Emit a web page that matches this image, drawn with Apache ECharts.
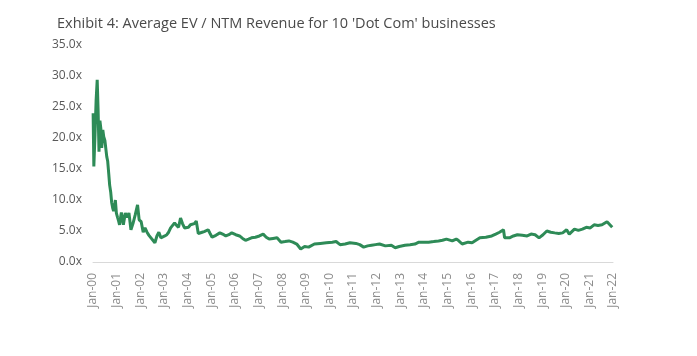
<!DOCTYPE html>
<html>
<head>
<meta charset="utf-8">
<script src="https://cdn.jsdelivr.net/npm/echarts@6/dist/echarts.min.js"></script>
<style>
html,body{margin:0;padding:0;background:#fff;}
#chart{width:697px;height:356px;}
</style>
</head>
<body>
<div id="chart"></div>
<script>
var titleText = "Exhibit 4: Average EV / NTM Revenue for 10 'Dot Com' businesses";

var dates = [
'2000-01-03','2000-01-14','2000-02-01','2000-02-18','2000-03-06','2000-03-20','2000-04-03','2000-04-17',
'2000-05-01','2000-05-15','2000-06-01','2000-06-15','2000-07-03','2000-07-17','2000-08-01','2000-08-15',
'2000-09-01','2000-09-15','2000-10-02','2000-10-16','2000-11-01','2000-11-15','2000-12-01','2000-12-12','2000-12-28',
'2001-01-15','2001-02-01','2001-02-15','2001-03-15','2001-04-15','2001-05-15','2001-06-15','2001-07-10',
'2001-08-10','2001-09-10','2001-10-15','2001-11-20','2001-12-15',
'2002-01-15','2002-02-15','2002-03-15','2002-04-15','2002-05-15','2002-06-15','2002-07-15','2002-08-15',
'2002-09-15','2002-10-15','2002-11-15','2002-12-15',
'2003-01-15','2003-02-15','2003-03-15','2003-04-15','2003-05-15','2003-06-15','2003-07-15','2003-08-15',
'2003-09-15','2003-10-15','2003-11-15','2003-12-15',
'2004-01-15','2004-02-15','2004-03-15','2004-04-15','2004-05-15','2004-06-15','2004-07-15','2004-08-15',
'2004-09-15','2004-10-15','2004-11-15','2004-12-15',
'2005-01-15','2005-03-15','2005-05-15','2005-07-15','2005-08-15','2005-10-01','2005-11-15',
'2006-01-15','2006-03-15','2006-05-01','2006-06-15','2006-08-01','2006-09-15','2006-11-15',
'2007-01-15','2007-03-15','2007-05-01','2007-06-15','2007-08-15','2007-10-15','2007-12-15',
'2008-02-15','2008-04-15','2008-06-15','2008-08-15','2008-10-15','2008-12-15',
'2009-02-15','2009-05-15','2009-08-15','2009-11-15',
'2010-02-15','2010-04-15','2010-06-15','2010-09-01','2010-11-15',
'2011-02-15','2011-04-15','2011-06-15','2011-08-15','2011-10-15','2011-12-15',
'2012-02-15','2012-05-15','2012-08-15','2012-10-15','2012-12-15',
'2013-03-15','2013-06-01','2013-08-15','2013-10-15','2013-12-15',
'2014-03-15','2014-06-01','2014-08-15','2014-10-15','2014-12-15',
'2015-03-15','2015-05-15','2015-06-15','2015-08-15','2015-11-15',
'2016-01-15','2016-03-15','2016-05-15','2016-08-15','2016-11-15',
'2017-01-15','2017-03-15','2017-05-15','2017-06-01','2017-08-15','2017-10-15','2017-12-15',
'2018-03-01','2018-05-15','2018-07-15','2018-09-15','2018-11-15',
'2019-01-15','2019-03-15','2019-05-15','2019-07-15','2019-09-15','2019-11-15',
'2020-01-15','2020-02-25','2020-05-15','2020-07-15','2020-09-15','2020-11-15',
'2021-01-15','2021-03-15','2021-05-15','2021-07-15','2021-10-01','2021-12-20'
];

var evRevenue = [
24.0,15.4,20.5,26.0,29.4,24.5,17.8,22.8,
21.6,18.4,21.3,20.2,19.6,19.9,17.0,16.3,
14.2,12.4,11.2,9.6,8.7,8.2,9.0,10.0,7.9,
7.2,6.6,6.0,8.0,6.0,7.9,7.2,7.9,
5.2,6.2,7.6,9.2,6.8,
6.5,4.8,5.5,4.8,4.3,3.9,3.6,3.1,
4.2,4.8,3.9,4.0,
4.2,4.4,4.8,5.5,5.8,6.3,5.9,5.6,
7.1,6.2,5.5,5.8,
5.6,6.0,5.7,6.2,6.6,4.6,4.5,4.8,
4.9,5.0,5.2,4.6,
4.0,4.3,4.7,4.4,4.2,4.4,4.7,
4.4,4.2,3.8,3.5,3.7,3.9,4.0,
4.2,4.5,4.0,3.7,3.8,3.9,3.2,
3.3,3.4,3.2,2.9,2.1,2.5,
2.4,2.9,3.0,3.1,
3.2,3.3,2.8,2.9,3.1,
3.0,2.8,2.4,2.6,2.7,2.8,
2.9,2.6,2.7,2.3,2.5,
2.7,2.8,2.9,3.2,3.2,
3.2,3.3,3.4,3.5,3.7,
3.4,3.7,3.5,2.9,3.2,
3.1,3.5,3.9,4.0,4.2,
4.5,4.8,5.2,3.9,3.9,4.2,4.4,
4.3,4.2,4.5,4.4,3.9,
4.4,5.0,4.8,4.7,4.6,4.7,
5.2,4.5,5.3,5.1,5.3,5.6,
5.5,6.0,5.9,6.0,6.5,5.6
];

var yTicks = [0, 5, 10, 15, 20, 25, 30, 35];
var xYears = [2000, 2022];

function toYear(s) {
  var p = s.split('-');
  var y = +p[0], m = +p[1] - 1, d = +p[2];
  var start = Date.UTC(y, 0, 1), end = Date.UTC(y + 1, 0, 1);
  return y + (Date.UTC(y, m, d) - start) / (end - start);
}

var seriesData = dates.map(function (d, i) { return [toYear(d), evRevenue[i]]; });

var chart = echarts.init(document.getElementById('chart'), null, { renderer: 'canvas' });
chart.setOption({
  animation: false,
  backgroundColor: '#ffffff',
  title: {
    text: titleText,
    left: 52,
    top: 11,
    textStyle: { fontFamily: 'Open Sans', fontSize: 14.5, fontWeight: 'normal', color: '#4a4a4a' }
  },
  grid: { left: 93, right: 84, top: 45, bottom: 94, containLabel: false },
  xAxis: {
    type: 'value',
    min: xYears[0],
    max: xYears[1],
    interval: 1,
    splitLine: { show: false },
    axisTick: { show: false },
    axisLine: { show: true, lineStyle: { color: '#d9d9d9', width: 1 } },
    axisLabel: {
      rotate: 90,
      margin: 11,
      fontFamily: 'Open Sans',
      fontSize: 12,
      color: '#8c8c8c',
      formatter: function (v) {
        var yy = Math.round(v) % 100;
        return 'Jan-' + (yy < 10 ? '0' + yy : '' + yy);
      }
    }
  },
  yAxis: {
    type: 'value',
    min: yTicks[0],
    max: yTicks[yTicks.length - 1],
    interval: yTicks[1] - yTicks[0],
    splitLine: { show: false },
    axisLine: { show: false },
    axisTick: { show: false },
    axisLabel: {
      margin: 11,
      fontFamily: 'Open Sans',
      fontSize: 12,
      color: '#595959',
      formatter: function (v) { return v.toFixed(1) + 'x'; }
    }
  },
  series: [{
    type: 'line',
    data: seriesData,
    showSymbol: false,
    symbol: 'none',
    lineStyle: { color: '#2e8b57', width: 3 },
    itemStyle: { color: '#2e8b57' }
  }]
});
</script>
</body>
</html>
